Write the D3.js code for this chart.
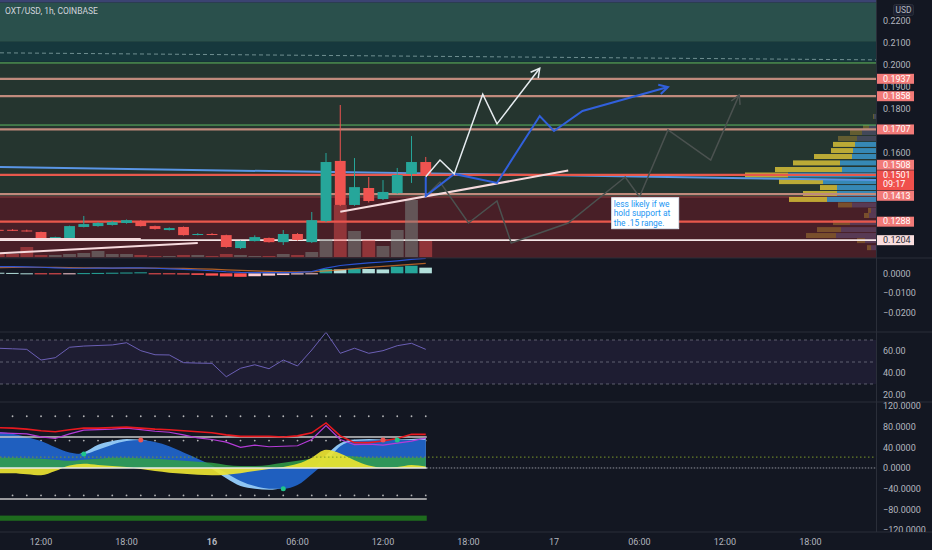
<!DOCTYPE html>
<html>
<head>
<meta charset="utf-8">
<script src="https://cdn.jsdelivr.net/npm/d3@7"></script>
<style>
  body { margin: 0; background: #131722; }
  text { font-family: Roboto, "Noto Sans", sans-serif; }
</style>
</head>
<body>
<svg id="chart" width="932" height="550"></svg>
<script>
// hours counted from 15th 00:00, one candle per hour
const hours = [9,10,11,12,13,14,15,16,17,18,19,20,21,22,23,24,25,26,27,28,29,30,31,32,33,34,35,36,37,38,39];
const opens  = [.1251,.1251,.1248,.1241,.1209,.1214,.1264,.1268,.1273,.1282,.1291,.1268,.1250,.1264,.1230,.1232,.1227,.1168,.1200,.1214,.1195,.1232,.1195,.1291,.1564,.1364,.1441,.1391,.1418,.1505,.1559];
const highs  = [.1253,.1254,.1252,.1243,.1220,.1270,.1314,.1286,.1291,.1298,.1295,.1270,.1262,.1266,.1236,.1236,.1229,.1202,.1226,.1216,.1250,.1236,.1332,.1600,.1818,.1577,.1491,.1477,.1532,.1677,.1582];
const lows   = [.1247,.1246,.1243,.1207,.1206,.1212,.1262,.1265,.1270,.1279,.1266,.1252,.1248,.1225,.1226,.1227,.1170,.1164,.1198,.1193,.1182,.1202,.1191,.1285,.1359,.1360,.1375,.1386,.1415,.1464,.1498];
const closes = [.1249,.1249,.1246,.1209,.1218,.1268,.1277,.1282,.1286,.1295,.1268,.1255,.1259,.1227,.1232,.1230,.1173,.1200,.1218,.1195,.1232,.1205,.1295,.1559,.1364,.1445,.1382,.1423,.1500,.1559,.1501];
const volumes = [3,3,10,2,2,3,4,6,3,3,2,1,1,2,2,1,3,2,1,1,3,2,5,18,52,26,17,11,27,57,16];

const macdLine   = [.0034,.0034,.0033,.0031,.0028,.0026,.0026,.0027,.0027,.0028,.0028,.0026,.0023,.0020,.0017,.0013,.0008,.0005,.0004,.0003,.0004,.0005,.0009,.0027,.0040,.0047,.0053,.0058,.0064,.0071,.0077];
const signalLine = [.0029,.0030,.0031,.0031,.0030,.0029,.0028,.0028,.0027,.0027,.0027,.0027,.0026,.0025,.0023,.0021,.0018,.0015,.0012,.0010,.0008,.0007,.0007,.0012,.0018,.0024,.0030,.0036,.0041,.0046,.0051];
const macdHist   = [.0003,.0002,.0000,-.0002,-.0004,-.0003,.0001,.0002,.0003,.0004,.0005,-.0002,-.0004,-.0006,-.0008,-.0012,-.0016,-.0018,-.0015,-.0012,-.0009,-.0006,-.0002,.0022,.0020,.0023,.0022,.0020,.0034,.0039,.0029];

const rsiValues = [62.5,62,61.5,51.8,53.9,63.4,64.5,65,65.5,67.5,60.3,56.6,56.4,49.4,49,48.8,36.6,44.3,47.5,43.9,51.8,46.4,60.9,77,57.9,62.5,57.9,60.3,64.8,67,61.5];

const waveFast  = [68,62,55,45,32,25,30,45,52,56,55,48,38,25,12,-2,-20,-35,-40,-42,-38,-28,-5,25,48,55,56,55,55,56,58];
const waveSlow  = [70,66,60,52,40,30,27,35,45,52,54,50,42,30,18,5,-10,-25,-35,-40,-40,-33,-12,12,42,52,53,54,54,54,54];
const moneyFlow = [20,20,19,18,16,14,16,18,20,20,19,18,16,14,12,10,6,4,4,6,10,14,18,22,24,22,20,20,20,20,20];
const rsiMfi    = [-10,-10,-12,-14,-6,5,8,6,4,2,-2,-6,-9,-11,-13,-14,-13,-10,-6,-2,2,8,20,35,28,15,5,1,2,6,3];
const redOsc    = [78,77,75,72,70,74,77,77,78,79,77,75,74,72,70,68,64,61,61,61,60,62,68,87,62,49,49,52,57,65,65];
const purpleOsc = [68,67,66,60,57,66,73,74,75,77,74,71,69,64,58,55,50,40,44,41,42,43,55,82,55,45,46,44,48,52,58];
const buyHours  = [15, 29, 37];
const sellHours = [19, 36];
const oscDotLevels = [100, 53, -53];
const oscSolidLevels = [60, -60];

// drawn objects: [hour, price]
const zoneEdges = [0.2295, 0.2283, 0.2105, 0.2014, 0.1400, 0.1123];
const tanLevels = [0.1937, 0.1858, 0.1707, 0.1413];
const redLevels = [0.1501, 0.1288];
const whiteLevels = [0.1204];
const greenLevels = [0.2009, 0.1727];
const blueTrend = [[9.12, 0.1536], [70.6, 0.1477]];
const dashedTrend = [[9.12, 0.2055], [70.6, 0.2023]];
const supportLine = [[33, 0.1333], [49, 0.1520]];
const lowTrend = [[9.12, 0.1145], [23, 0.1191]];
const flatRay = [[9.12, 0.1209], [19, 0.1209]];
const whitePath = [[39,.1492],[40,.1568],[41,.1505],[43,.1867],[44,.1732],[47,.1985]];
const bluePath = [[39,.1491],[39,.1405],[41,.1505],[44,.1464],[47,.1768],[48,.1700],[50,.1791],[56,.1900]];
const grayPath = [[39,.1405],[40,.1468],[42,.1282],[44,.1382],[45,.1191],[49,.1282],[53,.1491],[54,.1400],[56,.1705],[59,.1568],[61,.1864]];
const noteAt = [52.05, 0.1397];
const noteLines = ['less likely if we', 'hold support at', 'the .15 range.'];

// volume profile rows
const vpPrices = [.1766,.1716,.1693,.1666,.1639,.1611,.1584,.1555,.1525,.1500,.1470,.1443,.1416,.1389,.1364,.1339,.1316,.1284,.1252,.1225,.1202,.1170];
const vpUp   = [1,6,12,19,22,22,38,47,67,43,44,17,34,38,14,3,5,17,24,30,8,4];
const vpDown = [2,7,14,19,21,23,24,36,34,88,53,39,39,49,24,5,7,26,35,40,11,5];
const vpValueArea = [0.1389, 0.1639];

const priceLabels = [0.1937, 0.1858, 0.1707, 0.1508, 0.1501, 0.1413, 0.1288, 0.1204];
const lastTime = '09:17';
const priceTicks = [0.22, 0.21, 0.20, 0.19, 0.18, 0.17, 0.16, 0.15, 0.14, 0.13, 0.12];
const xTicks = [12, 18, 24, 30, 36, 42, 48, 54, 60, 66];
const xTickLabels = ['12:00', '18:00', '16', '06:00', '12:00', '18:00', '17', '06:00', '12:00', '18:00'];

const VIEW_HOURS = [9.12, 70.6];
const VIEW_PRICE = [0.1123, 0.2295];
const MACD_RANGE = [-0.0301, 0.00785];
const RSI_RANGE = [13.64, 77.27];
const OSC_RANGE = [-123.7, 127.5];

const PLOT_W = 876;
const PANE = { main: [0, 258], macd: [258, 332], rsi: [332, 402], osc: [402, 532] };
const AXIS_COLOR = '#b2b5be';
const SEP = '#2a2e39';

const svg = d3.select('#chart');

const x = d3.scaleLinear().domain(VIEW_HOURS).range([0, PLOT_W]);
const yMain = d3.scaleLinear().domain(VIEW_PRICE).range([PANE.main[1], PANE.main[0]]);
const yVol = d3.scaleLinear().domain([0, 60]).range([257, 197]);
const yMacd = d3.scaleLinear().domain(MACD_RANGE).range([PANE.macd[1], PANE.macd[0]]);
const yRsi = d3.scaleLinear().domain(RSI_RANGE).range([PANE.rsi[1], PANE.rsi[0]]);
const yOsc = d3.scaleLinear().domain(OSC_RANGE).range([PANE.osc[1], PANE.osc[0]]);
const vpX = d3.scaleLinear().domain([0, 140]).range([0, 140]);
const step = x(1) - x(0);

const defs = svg.append('defs');
function pane(name, x0, w) {
  const [t, b] = PANE[name];
  const id = 'clip-' + name + x0;
  defs.append('clipPath').attr('id', id)
    .append('rect').attr('x', x0).attr('y', t).attr('width', w).attr('height', b - t);
  return svg.append('g').attr('clip-path', `url(#${id})`);
}

svg.append('rect').attr('width', 932).attr('height', 550).attr('fill', '#131722');

const pt = (d) => [x(d[0]), yMain(d[1])];
const line = d3.line().x(d => x(d[0])).y(d => yMain(d[1]));

// ---------- main pane ----------
const main = pane('main', 0, PLOT_W);
const zoneColors = ['#3b4372', '#2a504c', '#16383d', '#25352f', '#481f27'];
main.selectAll('.zone').data(zoneColors).enter().append('rect')
  .attr('x', 0).attr('width', PLOT_W)
  .attr('y', (c, i) => yMain(zoneEdges[i]))
  .attr('height', (c, i) => yMain(zoneEdges[i + 1]) - yMain(zoneEdges[i]))
  .attr('fill', c => c);
main.append('line').attr('x1', 0).attr('x2', PLOT_W)
  .attr('y1', yMain(zoneEdges[4])).attr('y2', yMain(zoneEdges[4]))
  .attr('stroke', '#7a3338').attr('stroke-width', 1.5);

main.append('path').attr('d', line(dashedTrend)).attr('fill', 'none')
  .attr('stroke', 'rgba(170,200,200,0.6)').attr('stroke-dasharray', '4,3');

// volume profile
const vpRows = vpPrices.map((p, i) => ({ p, up: vpUp[i], down: vpDown[i],
  inVA: p >= vpValueArea[0] && p <= vpValueArea[1] }));
const rowH = 5;
main.selectAll('.vpu').data(vpRows).enter().append('rect')
  .attr('x', d => PLOT_W - vpX(d.up + d.down)).attr('width', d => vpX(d.up))
  .attr('y', d => yMain(d.p) - rowH / 2).attr('height', rowH)
  .attr('fill', d => d.inVA ? 'rgba(214,190,55,0.85)' : 'rgba(214,170,55,0.35)');
main.selectAll('.vpd').data(vpRows).enter().append('rect')
  .attr('x', d => PLOT_W - vpX(d.down)).attr('width', d => vpX(d.down))
  .attr('y', d => yMain(d.p) - rowH / 2).attr('height', rowH)
  .attr('fill', d => d.inVA ? 'rgba(58,150,205,0.85)' : 'rgba(120,110,170,0.35)');

function hLines(levels, color, w) {
  main.selectAll(null).data(levels).enter().append('line')
    .attr('x1', 0).attr('x2', PLOT_W)
    .attr('y1', d => yMain(d)).attr('y2', d => yMain(d))
    .attr('stroke', color).attr('stroke-width', w);
}
hLines(greenLevels, '#5cb860', 1);
hLines(tanLevels, '#c08a7c', 2.2);
main.append('path').attr('d', line(blueTrend)).attr('fill', 'none')
  .attr('stroke', '#5a96e6').attr('stroke-width', 2);
hLines(redLevels, '#e8584c', 2.2);
hLines(whiteLevels, '#f3e6e6', 1.8);

// candles data
const bars = hours.map((h, i) => ({ h, o: opens[i], hi: highs[i], lo: lows[i], c: closes[i], v: volumes[i] }));
const up = '#26a69a', down = '#ef5350';

main.selectAll('.vol').data(bars).enter().append('rect')
  .attr('x', d => x(d.h) - step * 0.45).attr('width', step * 0.9)
  .attr('y', d => yVol(d.v)).attr('height', d => yVol(0) - yVol(d.v))
  .attr('fill', d => d.c < d.o ? 'rgba(235,80,80,0.45)' : 'rgba(125,140,135,0.5)');

main.selectAll('.wick').data(bars).enter().append('line')
  .attr('x1', d => x(d.h)).attr('x2', d => x(d.h))
  .attr('y1', d => yMain(d.hi)).attr('y2', d => yMain(d.lo))
  .attr('stroke', d => d.c < d.o ? down : up).attr('stroke-width', 1);
main.selectAll('.body').data(bars).enter().append('rect')
  .attr('x', d => x(d.h) - step * 0.38).attr('width', step * 0.76)
  .attr('y', d => yMain(Math.max(d.o, d.c)))
  .attr('height', d => Math.max(1, Math.abs(yMain(d.o) - yMain(d.c))))
  .attr('fill', d => d.c < d.o ? down : up);

// trend lines and projections
[lowTrend, flatRay, supportLine].forEach(l => {
  main.append('path').attr('d', line(l)).attr('fill', 'none')
    .attr('stroke', '#f6dadd').attr('stroke-width', 2);
});
function arrowPath(pts, color, w) {
  main.append('path').attr('d', line(pts)).attr('fill', 'none')
    .attr('stroke', color).attr('stroke-width', w).attr('stroke-linejoin', 'miter');
  const a = pt(pts[pts.length - 2]), b = pt(pts[pts.length - 1]);
  const ang = Math.atan2(b[1] - a[1], b[0] - a[0]);
  const L = 10;
  const p1 = [b[0] - L * Math.cos(ang - 0.5), b[1] - L * Math.sin(ang - 0.5)];
  const p2 = [b[0] - L * Math.cos(ang + 0.5), b[1] - L * Math.sin(ang + 0.5)];
  main.append('path').attr('d', `M${p1}L${b}L${p2}`).attr('fill', 'none')
    .attr('stroke', color).attr('stroke-width', w);
}
arrowPath(grayPath, '#4b5250', 1.5);
arrowPath(bluePath, '#3160dc', 2);
arrowPath(whitePath, '#e6ecf0', 1.5);

// note
const [nx, ny] = pt(noteAt);
main.append('rect').attr('x', nx).attr('y', ny).attr('width', 67).attr('height', 31)
  .attr('fill', '#ffffff').attr('stroke', '#dfe8f2');
main.selectAll('.note').data(noteLines).enter().append('text')
  .attr('x', nx + 2).attr('y', (d, i) => ny + 9.6 + i * 9.2)
  .attr('font-size', '8.4px').attr('font-family', '"Liberation Sans", Arial, sans-serif')
  .attr('fill', '#2196f3').text(d => d);

svg.append('text').attr('x', 5).attr('y', 14).attr('font-size', '8.5px')
  .attr('fill', '#d1d4dc').text('OXT/USD, 1h, COINBASE');

// ---------- MACD pane ----------
const macd = pane('macd', 0, PLOT_W);
macd.selectAll('.hist').data(macdHist).enter().append('rect')
  .attr('x', (d, i) => x(hours[i]) - step * 0.45).attr('width', step * 0.88)
  .attr('y', d => yMacd(Math.max(0, d)))
  .attr('height', d => Math.max(1, Math.abs(yMacd(d) - yMacd(0))))
  .attr('fill', (d, i) => {
    const prev = i > 0 ? macdHist[i - 1] : d;
    if (d >= 0) return d > prev ? '#26a69a' : '#b2dfdb';
    return d < prev ? '#ff5252' : '#ffcdd2';
  });
const macdPath = (vals) => d3.line().x((d, i) => x(hours[i])).y(d => yMacd(d))(vals);
macd.append('path').attr('d', macdPath(signalLine)).attr('fill', 'none')
  .attr('stroke', 'rgba(230,120,40,0.75)').attr('stroke-width', 1.2);
macd.append('path').attr('d', macdPath(macdLine)).attr('fill', 'none')
  .attr('stroke', 'rgba(45,90,230,0.9)').attr('stroke-width', 1.2);

// ---------- RSI pane ----------
const rsi = pane('rsi', 0, PLOT_W);
rsi.append('rect').attr('x', 0).attr('width', PLOT_W)
  .attr('y', yRsi(70)).attr('height', yRsi(30) - yRsi(70))
  .attr('fill', 'rgba(126,87,194,0.1)');
rsi.selectAll('.lvl').data([70, 50, 30]).enter().append('line')
  .attr('x1', 0).attr('x2', PLOT_W).attr('y1', d => yRsi(d)).attr('y2', d => yRsi(d))
  .attr('stroke', 'rgba(150,152,165,0.55)').attr('stroke-dasharray', '3,3');
rsi.append('path')
  .attr('d', d3.line().x((d, i) => x(hours[i])).y(d => yRsi(d))(rsiValues))
  .attr('fill', 'none').attr('stroke', '#6b5fb5').attr('stroke-width', 1);

// ---------- oscillator pane ----------
const osc = pane('osc', 0, PLOT_W);
const oscArea = (vals) => d3.area().x((d, i) => x(hours[i])).y0(yOsc(0)).y1(d => yOsc(d)).curve(d3.curveMonotoneX)(vals);
const oscLine = (vals) => d3.line().x((d, i) => x(hours[i])).y(d => yOsc(d))(vals);
const lastX = x(hours[hours.length - 1]) + 1;

osc.selectAll('.dots').data(oscDotLevels).enter().append('g').each(function (lv) {
  d3.select(this).selectAll('circle').data(hours).enter().append('circle')
    .attr('cx', h => x(h)).attr('cy', yOsc(lv)).attr('r', 0.9)
    .attr('fill', 'rgba(220,220,220,0.8)');
});
osc.append('path').attr('d', oscArea(waveFast)).attr('fill', '#8ec5f2');
osc.append('path').attr('d', oscArea(waveSlow)).attr('fill', '#1f5fbf');
osc.append('path').attr('d', oscArea(moneyFlow)).attr('fill', 'rgba(50,160,70,0.85)');
osc.append('path').attr('d', oscArea(rsiMfi)).attr('fill', 'rgba(236,228,50,0.92)');

osc.append('line').attr('x1', 0).attr('x2', PLOT_W).attr('y1', yOsc(21)).attr('y2', yOsc(21))
  .attr('stroke', '#7d9a2a').attr('stroke-dasharray', '1.5,2.5');
osc.append('line').attr('x1', lastX).attr('x2', PLOT_W).attr('y1', yOsc(0)).attr('y2', yOsc(0))
  .attr('stroke', 'rgba(200,200,210,0.7)').attr('stroke-dasharray', '1.5,1.5');
osc.append('line').attr('x1', 0).attr('x2', lastX).attr('y1', yOsc(0)).attr('y2', yOsc(0))
  .attr('stroke', '#e8e8e8').attr('stroke-width', 1.5);
osc.selectAll('.solid').data(oscSolidLevels).enter().append('line')
  .attr('x1', 0).attr('x2', lastX).attr('y1', d => yOsc(d)).attr('y2', d => yOsc(d))
  .attr('stroke', '#c8c8c8').attr('stroke-width', 1.5);

osc.append('path').attr('d', oscLine(purpleOsc)).attr('fill', 'none')
  .attr('stroke', '#b53bd8').attr('stroke-width', 1.2);
osc.append('path').attr('d', oscLine(redOsc)).attr('fill', 'none')
  .attr('stroke', '#e8191f').attr('stroke-width', 1.6);

osc.selectAll('.buy').data(buyHours).enter().append('circle')
  .attr('cx', h => x(h)).attr('cy', h => yOsc(waveSlow[hours.indexOf(h)]))
  .attr('r', 2.5).attr('fill', '#1fc48a');
osc.selectAll('.sell').data(sellHours).enter().append('circle')
  .attr('cx', h => x(h)).attr('cy', h => yOsc(waveSlow[hours.indexOf(h)]))
  .attr('r', 2.5).attr('fill', '#ef5350');

osc.append('rect').attr('x', 0).attr('width', lastX)
  .attr('y', yOsc(-92)).attr('height', yOsc(-102) - yOsc(-92))
  .attr('fill', '#1e6b1e');

// ---------- separators ----------
[PANE.main[1], PANE.macd[1], PANE.rsi[1], PANE.osc[1]].forEach(yv => {
  svg.append('line').attr('x1', 0).attr('x2', 932).attr('y1', yv).attr('y2', yv)
    .attr('stroke', SEP).attr('stroke-width', 1);
});
svg.append('line').attr('x1', PLOT_W + 0.5).attr('x2', PLOT_W + 0.5).attr('y1', 0).attr('y2', PANE.osc[1])
  .attr('stroke', SEP);

// ---------- price labels layout ----------
const labelH = 10;
const lastPrice = closes[closes.length - 1];
const boxes = priceLabels.map(p => ({ p, y: yMain(p), two: p === lastPrice }));
const lastBox = boxes.find(b => b.two);
boxes.forEach(b => {
  if (b.two) { b.top = b.y - 4.5; b.h = 20; }
  else { b.top = b.y - labelH / 2; b.h = labelH; }
});
boxes.forEach(b => {
  if (b.two) return;
  if (b.top < lastBox.top + lastBox.h && b.top + b.h > lastBox.top) {
    b.top = b.p > lastBox.p ? lastBox.top - b.h - 0.5 : lastBox.top + lastBox.h + 0.5;
  }
});
// price ticks hidden behind a label are dropped, as the platform does
const freeTicks = priceTicks.filter(t => {
  const ty = yMain(t);
  return !boxes.some(b => ty > b.top - 2.5 && ty < b.top + b.h + 2.5);
});

// ---------- right axes ----------
function rightAxis(name, scale, ticks, fmt) {
  const g = pane(name, PLOT_W, 56).append('g').attr('transform', `translate(${PLOT_W},0)`)
    .call(d3.axisRight(scale).tickValues(ticks).tickSize(0).tickPadding(7).tickFormat(fmt));
  g.select('.domain').remove();
  g.selectAll('text').attr('fill', AXIS_COLOR).attr('font-size', '9px')
    .attr('font-family', 'Roboto, sans-serif');
}
rightAxis('main', yMain, freeTicks, d3.format('.4f'));
rightAxis('macd', yMacd, [0, -0.01, -0.02], d3.format('.4f'));
rightAxis('rsi', yRsi, [60, 40, 20], d3.format('.2f'));
rightAxis('osc', yOsc, [120, 80, 40, 0, -40, -80, -120], d3.format('.4f'));

svg.append('rect').attr('x', 893.5).attr('y', 4.5).attr('width', 20).attr('height', 11)
  .attr('rx', 2).attr('fill', '#1c2030').attr('stroke', '#2a2e39');
svg.append('text').attr('x', 903.5).attr('y', 13).attr('text-anchor', 'middle')
  .attr('font-size', '8.5px').attr('fill', AXIS_COLOR).text('USD');

const lab = svg.append('g');
lab.selectAll('rect').data(boxes).enter().append('rect')
  .attr('x', PLOT_W + 1).attr('y', d => d.top).attr('width', 37).attr('height', d => d.h)
  .attr('fill', d => d.two ? '#f0504c' : (d.p === whiteLevels[0] ? '#f9dede' : '#f27a78'));
lab.selectAll('text.p').data(boxes).enter().append('text')
  .attr('x', PLOT_W + 7).attr('y', d => d.top + 7.8)
  .attr('font-size', '9px')
  .attr('fill', d => d.p === whiteLevels[0] ? '#2a2e39' : '#ffffff')
  .text(d => d3.format('.4f')(d.p));
lab.append('text').attr('x', PLOT_W + 7).attr('y', lastBox.top + 17)
  .attr('font-size', '9px').attr('fill', '#ffffff').text(lastTime);

// ---------- time axis ----------
svg.selectAll('.xt').data(xTicks).enter().append('text')
  .attr('x', d => x(d)).attr('y', 545).attr('text-anchor', 'middle')
  .attr('font-size', '9px').attr('fill', AXIS_COLOR)
  .attr('font-weight', (d, i) => xTickLabels[i] === '16' ? 'bold' : 'normal')
  .text((d, i) => xTickLabels[i]);
</script>
</body>
</html>
